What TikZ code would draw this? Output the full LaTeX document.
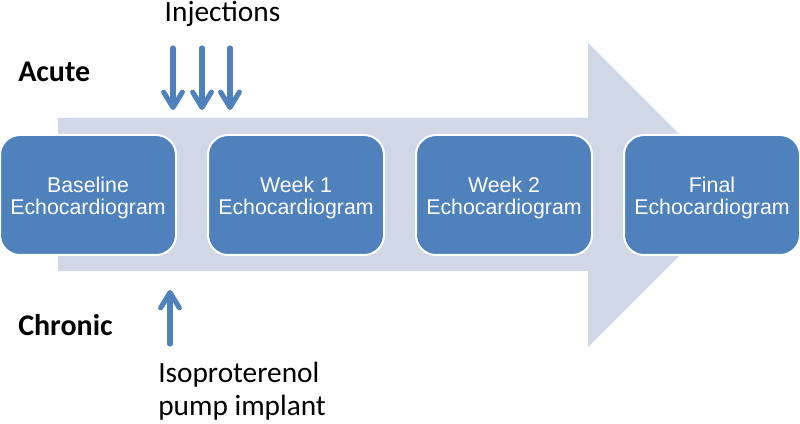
\documentclass[tikz,border=0pt]{standalone}
\usepackage{fontspec}
\setmainfont{Liberation Sans}
\newfontfamily\calfont{Carlito}
\usetikzlibrary{arrows.meta}
\definecolor{boxblue}{HTML}{4F81BD}
\definecolor{bandblue}{HTML}{D0D8E8}
\tikzset{
  echobox/.style={rounded corners=15pt, fill=boxblue, draw=white, line width=1.5pt,
    minimum width=132pt, minimum height=90pt, inner sep=0pt},
  boxtext/.style={align=center, text=white, yshift=-2.25pt, inner sep=0pt,
    font=\fontsize{16}{16}\selectfont},
  lbl/.style={font=\calfont\fontsize{22}{25}\selectfont, inner sep=0pt},
  blbl/.style={font=\calfont\bfseries\fontsize{22.5}{25}\selectfont, inner sep=0pt},
  bluearrow/.style={draw=boxblue, line width=3.8pt, line cap=round,
    -{Straight Barb[length=11.5pt,width=14pt,line cap=round,line join=round]}}
}
\begin{document}
\begin{tikzpicture}[x=0.75pt,y=-0.75pt]
\useasboundingbox (0,0) rectangle (800,424);
% background band arrow
\fill[bandblue] (58,118) -- (588,118) -- (588,43) -- (740,195) -- (588,347) -- (588,271) -- (58,271) -- cycle;
% boxes
\node[echobox, label={[boxtext]center:Baseline\\Echocardiogram}] (b1) at (88,195) {};
\node[echobox, label={[boxtext]center:Week 1\\Echocardiogram}] (b2) at (296,195) {};
\node[echobox, label={[boxtext]center:Week 2\\Echocardiogram}] (b3) at (504,195) {};
\node[echobox, label={[boxtext]center:Final\\Echocardiogram}] (b4) at (712,195) {};
% labels
\node[lbl, anchor=base] (inj) at (222.5,21.5) {Injections};
\node[blbl, anchor=base west] (acute) at (18,82) {Acute};
\node[blbl, anchor=base west] (chronic) at (18,335) {Chronic};
\node[lbl, anchor=base west, align=left] (iso) at (158,382) {Isoproterenol};
\node[lbl, anchor=base west, align=left] (pump) at (158,415) {pump implant};
% injection arrows
\coordinate (i1s) at (173,48); \coordinate (i1e) at (173,110);
\coordinate (i2s) at (202,48); \coordinate (i2e) at (202,110);
\coordinate (i3s) at (230,48); \coordinate (i3e) at (230,110);
\draw[bluearrow] (i1s) -- (i1e);
\draw[bluearrow] (i2s) -- (i2e);
\draw[bluearrow] (i3s) -- (i3e);
% chronic arrow
\coordinate (cs) at (170,344); \coordinate (ce) at (170,290);
\draw[bluearrow] (cs) -- (ce);
\end{tikzpicture}
\end{document}
